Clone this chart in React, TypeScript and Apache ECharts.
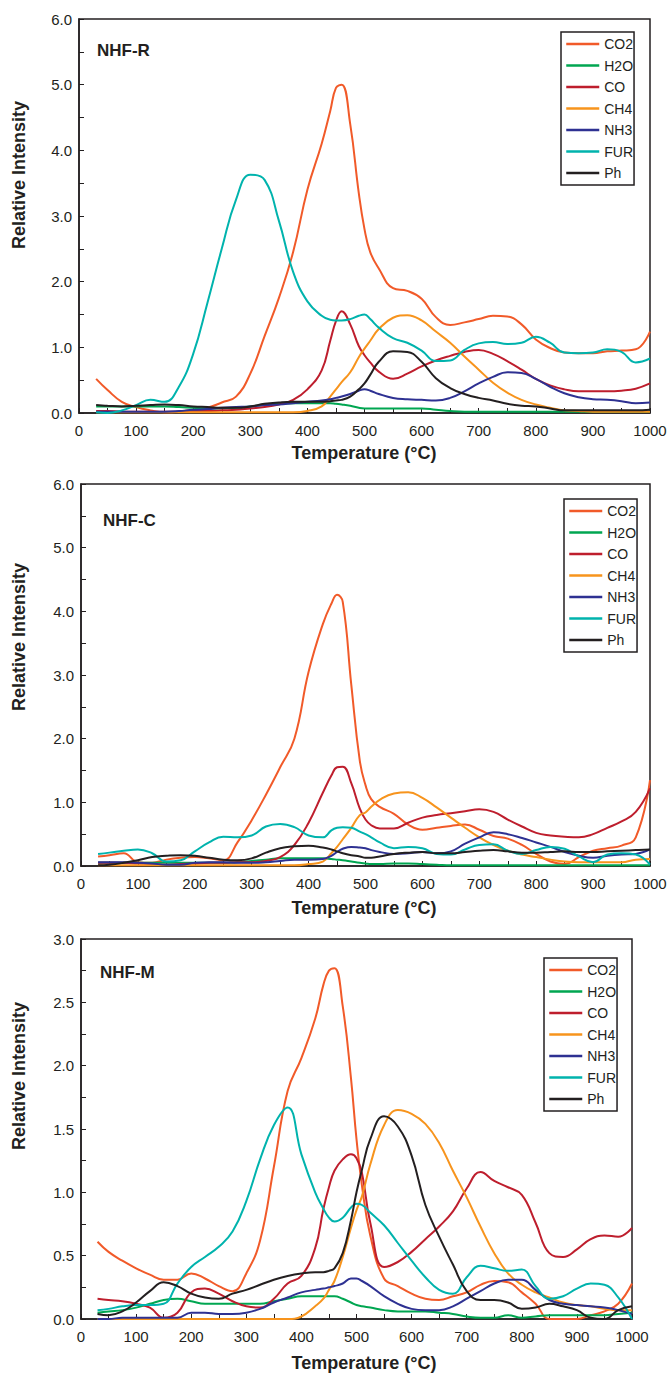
import React, { useEffect, useRef } from "react";
import * as echarts from "echarts";

// Temperature grid (°C) shared by all series
const T = [30, 50, 75, 100, 125, 150, 175, 200, 225, 250, 275, 300, 325, 350, 375, 400, 425, 440, 450, 460, 475, 490, 500, 510, 525, 550, 575, 600, 625, 650, 675, 700, 725, 750, 775, 800, 825, 850, 875, 900, 925, 950, 975, 1000];

const NAMES = ["CO2", "H2O", "CO", "CH4", "NH3", "FUR", "Ph"];
const COLORS = ["#f15a29", "#00a651", "#be1e2d", "#f7941d", "#2e3192", "#00b3ad", "#231f20"];

// NHF-R
const R_CO2 = [0.52, 0.35, 0.17, 0.09, 0.04, 0.01, 0.02, 0.05, 0.08, 0.16, 0.25, 0.6, 1.17, 1.75, 2.45, 3.4, 4.1, 4.6, 4.95, 5.0, 4.4, 3.35, 2.8, 2.45, 2.2, 1.9, 1.86, 1.74, 1.46, 1.34, 1.38, 1.43, 1.48, 1.47, 1.35, 1.12, 0.99, 0.92, 0.91, 0.91, 0.94, 0.95, 0.97, 1.24];
const R_H2O = [0.1, 0.1, 0.1, 0.1, 0.1, 0.1, 0.09, 0.08, 0.07, 0.07, 0.08, 0.1, 0.12, 0.14, 0.15, 0.15, 0.15, 0.15, 0.14, 0.13, 0.11, 0.08, 0.07, 0.07, 0.07, 0.07, 0.07, 0.07, 0.05, 0.03, 0.02, 0.02, 0.02, 0.02, 0.02, 0.02, 0.02, 0.02, 0.02, 0.02, 0.02, 0.02, 0.02, 0.02];
const R_CO = [0.03, 0.03, 0.02, 0.02, 0.02, 0.02, 0.02, 0.03, 0.03, 0.04, 0.05, 0.07, 0.09, 0.13, 0.2, 0.36, 0.65, 1.1, 1.4, 1.55, 1.35, 1.02, 0.88, 0.77, 0.63, 0.52, 0.6, 0.71, 0.8, 0.87, 0.93, 0.96, 0.9, 0.79, 0.66, 0.52, 0.42, 0.36, 0.33, 0.33, 0.33, 0.34, 0.37, 0.45];
const R_CH4 = [0.01, 0.01, 0.01, 0.01, 0.01, 0.01, 0.01, 0.01, 0.01, 0.01, 0.01, 0.01, 0.01, 0.01, 0.01, 0.03, 0.1, 0.25, 0.36, 0.47, 0.62, 0.85, 0.98, 1.1, 1.28, 1.45, 1.49, 1.41, 1.24, 1.07, 0.86, 0.66, 0.46, 0.31, 0.2, 0.13, 0.08, 0.04, 0.03, 0.02, 0.02, 0.02, 0.02, 0.02];
const R_NH3 = [0.02, 0.02, 0.02, 0.02, 0.02, 0.02, 0.03, 0.05, 0.06, 0.08, 0.09, 0.1, 0.12, 0.13, 0.15, 0.17, 0.19, 0.21, 0.23, 0.25, 0.29, 0.34, 0.36, 0.34, 0.29, 0.23, 0.21, 0.2, 0.19, 0.23, 0.33, 0.45, 0.55, 0.62, 0.61, 0.52, 0.4, 0.3, 0.24, 0.21, 0.2, 0.18, 0.15, 0.16];
const R_FUR = [0.01, 0.0, 0.04, 0.12, 0.2, 0.17, 0.4, 0.9, 1.68, 2.5, 3.25, 3.63, 3.55, 2.93, 2.15, 1.7, 1.48, 1.42, 1.41, 1.41, 1.43, 1.48, 1.5, 1.43, 1.3, 1.14, 1.07, 0.95, 0.79, 0.8, 0.96, 1.06, 1.08, 1.05, 1.07, 1.16, 1.07, 0.92, 0.91, 0.92, 0.97, 0.93, 0.77, 0.83];
const R_PH = [0.12, 0.11, 0.1, 0.11, 0.12, 0.13, 0.12, 0.1, 0.09, 0.08, 0.08, 0.1, 0.14, 0.16, 0.17, 0.17, 0.17, 0.18, 0.19, 0.2, 0.25, 0.36, 0.45, 0.58, 0.78, 0.94, 0.93, 0.78, 0.53, 0.38, 0.29, 0.23, 0.19, 0.14, 0.11, 0.1, 0.07, 0.04, 0.04, 0.04, 0.04, 0.04, 0.04, 0.05];

// NHF-C
const C_CO2 = [0.15, 0.17, 0.2, 0.06, 0.05, 0.1, 0.13, 0.14, 0.12, 0.09, 0.37, 0.72, 1.12, 1.55, 2.0, 3.05, 3.8, 4.12, 4.26, 4.15, 2.85, 1.65, 1.27, 1.05, 0.93, 0.82, 0.65, 0.57, 0.6, 0.63, 0.65, 0.57, 0.47, 0.43, 0.33, 0.19, 0.07, 0.03, 0.14, 0.24, 0.28, 0.32, 0.45, 1.35];
const C_H2O = [0.05, 0.05, 0.05, 0.05, 0.05, 0.05, 0.05, 0.05, 0.05, 0.05, 0.06, 0.08, 0.1, 0.12, 0.12, 0.12, 0.12, 0.11, 0.1, 0.09, 0.07, 0.05, 0.04, 0.03, 0.03, 0.04, 0.04, 0.03, 0.02, 0.01, 0.01, 0.01, 0.01, 0.01, 0.01, 0.01, 0.01, 0.01, 0.01, 0.01, 0.01, 0.01, 0.01, 0.01];
const C_CO = [0.05, 0.05, 0.05, 0.04, 0.03, 0.02, 0.03, 0.04, 0.05, 0.05, 0.06, 0.06, 0.08, 0.14, 0.33, 0.68, 1.15, 1.42, 1.55, 1.56, 1.3, 0.9, 0.73, 0.64, 0.59, 0.59, 0.68, 0.76, 0.8, 0.83, 0.86, 0.89, 0.85, 0.73, 0.62, 0.52, 0.48, 0.46, 0.45, 0.5, 0.6, 0.7, 0.85, 1.22];
const C_CH4 = [0.01, 0.01, 0.01, 0.01, 0.01, 0.01, 0.01, 0.01, 0.01, 0.01, 0.01, 0.01, 0.01, 0.01, 0.01, 0.03, 0.07, 0.2, 0.3, 0.42, 0.6, 0.8, 0.84, 0.93, 1.04, 1.14, 1.16, 1.07, 0.92, 0.76, 0.6, 0.45, 0.33, 0.24, 0.18, 0.14, 0.1, 0.07, 0.06, 0.06, 0.06, 0.06, 0.1, 0.11];
const C_NH3 = [0.06, 0.06, 0.06, 0.05, 0.04, 0.02, 0.02, 0.05, 0.06, 0.06, 0.05, 0.05, 0.06, 0.08, 0.1, 0.1, 0.11, 0.16, 0.22, 0.27, 0.3, 0.29, 0.28, 0.25, 0.22, 0.19, 0.2, 0.22, 0.2, 0.23, 0.35, 0.45, 0.53, 0.5, 0.44, 0.37, 0.3, 0.22, 0.16, 0.13, 0.16, 0.18, 0.19, 0.26];
const C_FUR = [0.19, 0.21, 0.24, 0.26, 0.2, 0.07, 0.09, 0.23, 0.37, 0.46, 0.45, 0.48, 0.62, 0.66, 0.61, 0.48, 0.45, 0.56, 0.6, 0.61, 0.6, 0.54, 0.5, 0.45, 0.37, 0.28, 0.3, 0.28, 0.19, 0.18, 0.26, 0.33, 0.34, 0.24, 0.19, 0.25, 0.3, 0.27, 0.15, 0.06, 0.18, 0.2, 0.18, 0.02];
const C_PH = [0.01, 0.02, 0.05, 0.09, 0.14, 0.16, 0.17, 0.16, 0.13, 0.1, 0.09, 0.12, 0.21, 0.28, 0.31, 0.32, 0.29, 0.26, 0.23, 0.2, 0.17, 0.15, 0.13, 0.13, 0.15, 0.19, 0.21, 0.22, 0.2, 0.2, 0.22, 0.24, 0.25, 0.23, 0.21, 0.21, 0.22, 0.23, 0.22, 0.22, 0.23, 0.24, 0.25, 0.26];

// NHF-M
const M_CO2 = [0.61, 0.53, 0.46, 0.4, 0.35, 0.31, 0.31, 0.36, 0.32, 0.26, 0.22, 0.36, 0.62, 1.2, 1.8, 2.06, 2.37, 2.64, 2.75, 2.77, 2.47, 1.9, 1.42, 1.05, 0.66, 0.32, 0.26, 0.2, 0.16, 0.15, 0.18, 0.21, 0.27, 0.3, 0.29, 0.21, 0.12, 0.0, 0.0, 0.0, 0.03, 0.06, 0.12, 0.28];
const M_H2O = [0.05, 0.06, 0.07, 0.09, 0.12, 0.15, 0.16, 0.14, 0.12, 0.12, 0.12, 0.12, 0.12, 0.14, 0.16, 0.18, 0.18, 0.18, 0.18, 0.18, 0.16, 0.13, 0.11, 0.1, 0.09, 0.07, 0.06, 0.06, 0.06, 0.05, 0.04, 0.02, 0.01, 0.01, 0.03, 0.01, 0.02, 0.03, 0.03, 0.03, 0.03, 0.03, 0.04, 0.05];
const M_CO = [0.16, 0.15, 0.14, 0.12, 0.09, 0.01, 0.05, 0.21, 0.24, 0.2, 0.14, 0.1, 0.09, 0.16, 0.28, 0.34, 0.56, 0.87, 1.04, 1.17, 1.26, 1.3, 1.27, 1.15, 0.76, 0.41, 0.45, 0.53, 0.63, 0.73, 0.85, 1.03, 1.16, 1.09, 1.04, 0.98, 0.76, 0.52, 0.49, 0.55, 0.63, 0.66, 0.65, 0.72];
const M_CH4 = [0.0, 0.0, 0.0, 0.0, 0.0, 0.0, 0.0, 0.0, 0.0, 0.0, 0.0, 0.0, 0.0, 0.0, 0.0, 0.02, 0.1, 0.16, 0.23, 0.3, 0.49, 0.72, 0.86, 0.97, 1.22, 1.53, 1.65, 1.62, 1.54, 1.39, 1.17, 0.96, 0.73, 0.52, 0.36, 0.27, 0.21, 0.17, 0.13, 0.11, 0.1, 0.08, 0.07, 0.07];
const M_NH3 = [0.0, 0.0, 0.01, 0.01, 0.01, 0.01, 0.01, 0.05, 0.05, 0.04, 0.04, 0.05, 0.08, 0.13, 0.17, 0.21, 0.23, 0.24, 0.25, 0.26, 0.28, 0.32, 0.32, 0.3, 0.26, 0.18, 0.12, 0.08, 0.07, 0.07, 0.1, 0.16, 0.22, 0.28, 0.31, 0.31, 0.23, 0.15, 0.12, 0.11, 0.1, 0.09, 0.07, 0.04];
const M_FUR = [0.07, 0.08, 0.1, 0.11, 0.11, 0.12, 0.28, 0.41, 0.49, 0.57, 0.69, 0.93, 1.26, 1.53, 1.67, 1.3, 1.0, 0.87, 0.8, 0.77, 0.8, 0.88, 0.91, 0.9, 0.84, 0.74, 0.6, 0.46, 0.33, 0.23, 0.2, 0.33, 0.42, 0.4, 0.38, 0.39, 0.26, 0.16, 0.18, 0.24, 0.28, 0.27, 0.17, 0.0];
const M_PH = [0.04, 0.03, 0.06, 0.13, 0.22, 0.29, 0.26, 0.2, 0.17, 0.16, 0.2, 0.23, 0.27, 0.31, 0.34, 0.36, 0.37, 0.37, 0.38, 0.4, 0.52, 0.78, 1.0, 1.18, 1.42, 1.6, 1.52, 1.29, 0.9, 0.65, 0.43, 0.22, 0.15, 0.15, 0.13, 0.08, 0.09, 0.12, 0.1, 0.07, 0.01, 0.0, 0.07, 0.1];

const FONT = '"Liberation Sans", Arial, Helvetica, sans-serif';
const INK = "#231f20";

const PANELS = [
  {
    title: "NHF-R",
    data: [R_CO2, R_H2O, R_CO, R_CH4, R_NH3, R_FUR, R_PH],
    yMax: 6, yStep: 1,
    grid: { left: 79, top: 19, width: 571, height: 394 },
    legend: { left: 561, top: 32 },
    titlePos: [97, 50], yTitle: [19, 175], xTitle: [364, 453],
  },
  {
    title: "NHF-C",
    data: [C_CO2, C_H2O, C_CO, C_CH4, C_NH3, C_FUR, C_PH],
    yMax: 6, yStep: 1,
    grid: { left: 81, top: 484, width: 569, height: 382 },
    legend: { left: 564, top: 499 },
    titlePos: [103, 520], yTitle: [19, 637], xTitle: [364, 908],
  },
  {
    title: "NHF-M",
    data: [M_CO2, M_H2O, M_CO, M_CH4, M_NH3, M_FUR, M_PH],
    yMax: 3, yStep: 0.5,
    grid: { left: 81, top: 939, width: 551, height: 380 },
    legend: { left: 544, top: 958 },
    titlePos: [100, 972], yTitle: [19, 1076], xTitle: [364, 1363],
  },
];

export default function App() {
  const ref = useRef<HTMLDivElement>(null);
  useEffect(() => {
    document.body.style.margin = "0";
    const chart = echarts.init(ref.current!, null, { renderer: "svg" });

    const grids: any[] = [];
    const xAxes: any[] = [];
    const yAxes: any[] = [];
    const series: any[] = [];
    const legends: any[] = [];
    const graphics: any[] = [];

    PANELS.forEach((p, pi) => {
      grids.push({ ...p.grid, show: true, borderColor: INK, borderWidth: 1.5, backgroundColor: "transparent" });
      xAxes.push({
        type: "value", gridIndex: pi, min: 0, max: 1000, interval: 100,
        axisLine: { show: true, lineStyle: { color: INK, width: 1.5 } },
        axisTick: { show: true, inside: true, length: 5, lineStyle: { color: INK, width: 1 } },
        minorTick: { show: true, splitNumber: 2, length: 5, lineStyle: { color: INK, width: 1 } },
        axisLabel: { color: INK, fontSize: 15, fontFamily: FONT, margin: 10, formatter: (v: number) => String(v) },
        splitLine: { show: false },
      });
      yAxes.push({
        type: "value", gridIndex: pi, min: 0, max: p.yMax, interval: p.yStep,
        axisLine: { show: true, lineStyle: { color: INK, width: 1.5 } },
        axisTick: { show: true, inside: true, length: 5, lineStyle: { color: INK, width: 1 } },
        minorTick: { show: true, splitNumber: 2, length: 5, lineStyle: { color: INK, width: 1 } },
        axisLabel: { color: INK, fontSize: 15, fontFamily: FONT, margin: 7, formatter: (v: number) => v.toFixed(1) },
        splitLine: { show: false },
      });
      p.data.forEach((arr, k) => {
        series.push({
          type: "line", name: NAMES[k], xAxisIndex: pi, yAxisIndex: pi,
          data: T.map((t, i) => [t, arr[i]]),
          symbol: "none", showSymbol: false,
          smooth: 0.45,
          lineStyle: { width: 2, color: COLORS[k] },
          itemStyle: { color: COLORS[k] },
          clip: true,
        });
      });
      legends.push({
        show: true, orient: "vertical", left: p.legend.left, top: p.legend.top,
        padding: [5, 1, 5, 4], borderColor: INK, borderWidth: 1.5, backgroundColor: "#fff",
        itemWidth: 33, itemHeight: 14, itemGap: 7.5, selectedMode: false,
        itemStyle: { opacity: 0 },
        lineStyle: { width: 2.5 },
        textStyle: { color: INK, fontSize: 14, fontFamily: FONT, lineHeight: 14 },
        data: NAMES,
      });
      graphics.push({
        type: "text", x: p.titlePos[0], y: p.titlePos[1],
        style: { text: p.title, fill: INK, font: `bold 17px ${FONT}`, textAlign: "left", textVerticalAlign: "middle" },
      });
      graphics.push({
        type: "text", x: p.yTitle[0], y: p.yTitle[1], rotation: Math.PI / 2,
        style: { text: "Relative Intensity", fill: INK, font: `bold 18px ${FONT}`, textAlign: "center", textVerticalAlign: "middle" },
      });
      graphics.push({
        type: "text", x: p.xTitle[0], y: p.xTitle[1],
        style: { text: "Temperature (°C)", fill: INK, font: `bold 18px ${FONT}`, textAlign: "center", textVerticalAlign: "middle" },
      });
    });

    chart.setOption({
      animation: false,
      backgroundColor: "#fff",
      grid: grids,
      xAxis: xAxes,
      yAxis: yAxes,
      legend: legends,
      series,
      graphic: graphics,
    });
    return () => chart.dispose();
  }, []);
  return <div ref={ref} style={{ width: 671, height: 1375 }} />;
}
